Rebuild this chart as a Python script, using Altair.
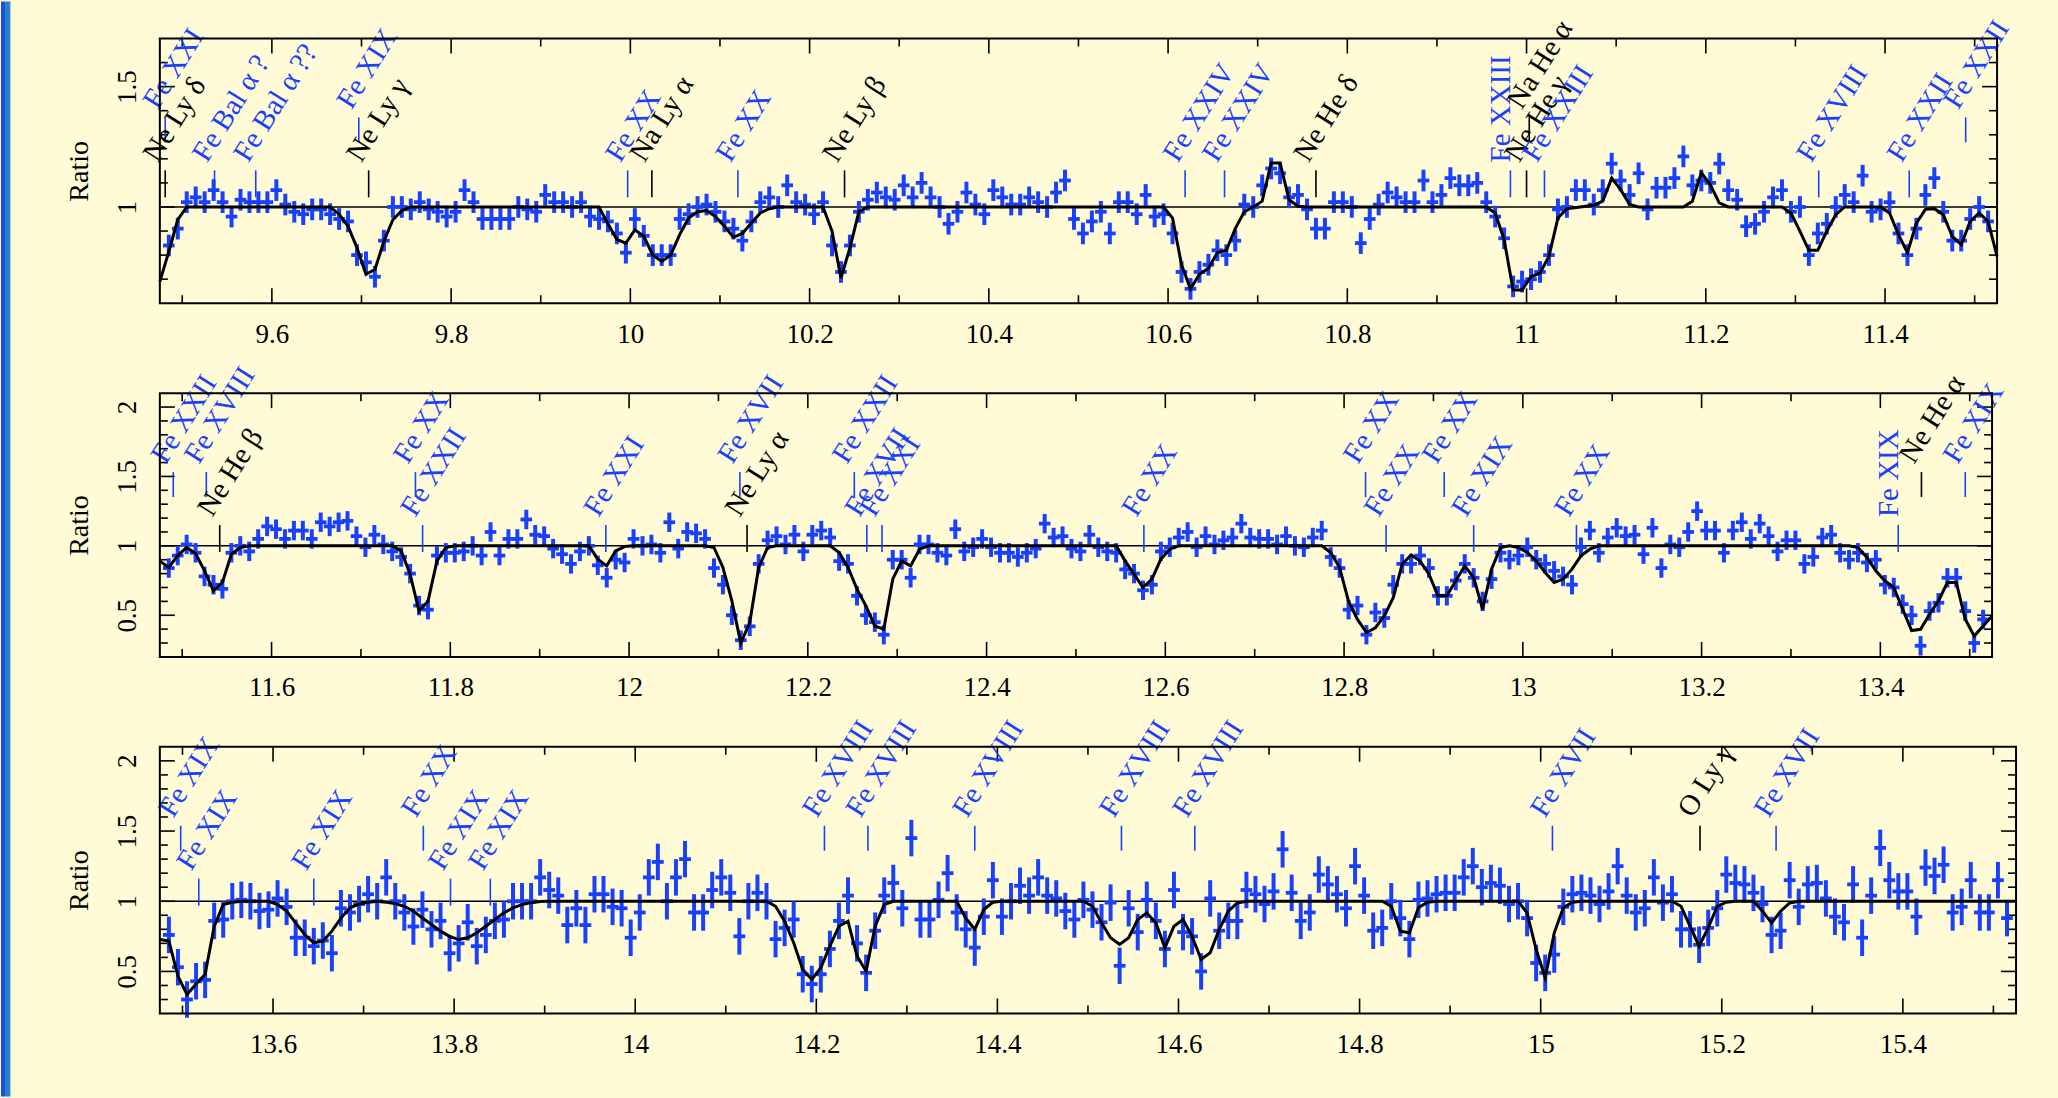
import altair as alt
import pandas as pd

FONT = "Liberation Serif"
BG = "#FFFBD7"
BLUE = "#1a40ff"
BIN = 0.01
HALF_BIN = 0.0065

# page / frame geometry (pixels)
ORIGIN_X, ORIGIN_Y = 159, 37
PAGE_W, PAGE_H = 2058, 1096
LEVEL_PX = {"lo": (159, 132), "hi": (104, 79)}   # marker tick (bottom, top) below frame top
TICK_MAJ, TICK_MIN = 15, 8

# ---------------- panel 1 ----------------
P1_X = [9.475, 11.525]
P1_Y = [0.6, 1.7]
P1_START = 9.485
P1_ERR = 0.045
P1_RATIO = [
    0.84, 0.91, 1.02, 1.04, 1.02, 1.07, 1.02, 0.96, 1.03, 1.02,
    1.02, 1.02, 1.07, 1.01, 0.98, 0.97, 0.99, 0.99, 0.97, 0.95,
    0.94, 0.80, 0.77, 0.71, 0.86, 1.00, 1.00, 0.99, 1.02, 0.99,
    0.98, 0.96, 0.98, 1.07, 1.02, 0.95, 0.95, 0.95, 0.95, 1.00,
    0.99, 0.98, 1.05, 1.02, 1.02, 1.00, 1.02, 0.96, 0.95, 0.94,
    0.89, 0.81, 0.95, 0.88, 0.80, 0.80, 0.80, 0.95, 0.97, 1.00,
    1.01, 0.98, 0.94, 0.91, 0.86, 0.94, 1.02, 1.04, 1.00, 1.09,
    1.02, 1.01, 0.97, 1.02, 0.84, 0.73, 0.84, 0.98, 1.03, 1.06,
    1.04, 1.03, 1.09, 1.04, 1.10, 1.04, 1.00, 0.93, 0.98, 1.06,
    1.01, 0.97, 1.07, 1.04, 1.01, 1.01, 1.04, 1.02, 1.00, 1.06,
    1.11, 0.95, 0.89, 0.94, 0.98, 0.89, 1.02, 1.02, 0.97, 1.05,
    0.96, 0.97, 0.89, 0.73, 0.66, 0.73, 0.76, 0.82, 0.80, 0.86,
    1.01, 1.00, 1.09, 1.16, 1.14, 1.04, 1.05, 0.99, 0.91, 0.91,
    1.02, 1.02, 1.00, 0.85, 0.95, 1.01, 1.06, 1.04, 1.02, 1.02,
    1.11, 1.02, 1.05, 1.12, 1.09, 1.09, 1.10, 1.02, 0.96, 0.87,
    0.67, 0.69, 0.70, 0.73, 0.80, 0.99, 1.00, 1.07, 1.07, 1.01,
    1.07, 1.18, 1.11, 1.05, 1.14, 0.99, 1.08, 1.08, 1.12, 1.21,
    1.09, 1.11, 1.10, 1.18, 1.07, 1.03, 0.92, 0.93, 0.98, 1.04,
    1.07, 0.98, 1.00, 0.80, 0.89, 0.93, 1.00, 1.05, 1.02, 1.13,
    0.98, 0.99, 1.02, 0.89, 0.80, 0.91, 1.05, 1.12, 0.98, 0.86,
    0.86, 0.95, 1.00, 0.94,
]
P1_MODEL_W = [
    9.475, 9.485, 9.495, 9.505, 9.665, 9.675, 9.685, 9.695, 9.705, 9.715,
    9.725, 9.735, 9.745, 9.755, 9.965, 9.975, 9.985, 9.995, 10.005, 10.015,
    10.025, 10.035, 10.045, 10.055, 10.065, 10.075, 10.085, 10.095, 10.105, 10.115,
    10.125, 10.135, 10.145, 10.155, 10.165, 10.215, 10.225, 10.235, 10.245, 10.255,
    10.265, 10.595, 10.605, 10.615, 10.625, 10.635, 10.645, 10.655, 10.665, 10.675,
    10.685, 10.695, 10.705, 10.715, 10.725, 10.735, 10.745, 10.755, 10.955, 10.965,
    10.975, 10.985, 10.995, 11.005, 11.015, 11.025, 11.035, 11.045, 11.075, 11.085,
    11.095, 11.105, 11.115, 11.125, 11.175, 11.185, 11.195, 11.205, 11.215, 11.225,
    11.285, 11.295, 11.305, 11.315, 11.325, 11.335, 11.345, 11.355, 11.395, 11.405,
    11.415, 11.425, 11.435, 11.445, 11.455, 11.465, 11.475, 11.485, 11.495, 11.505,
    11.515, 11.525,
]
P1_MODEL_R = [
    0.69, 0.815, 0.947, 1.0, 1.0, 0.97, 0.92, 0.83, 0.72, 0.74,
    0.857, 0.947, 0.985, 1.0, 1.0, 0.93, 0.865, 0.85, 0.905, 0.878,
    0.80, 0.774, 0.80, 0.885, 0.954, 0.98, 0.985, 0.96, 0.92, 0.874,
    0.89, 0.933, 0.975, 0.993, 1.0, 1.0, 0.90, 0.705, 0.83, 0.98,
    1.0, 1.0, 0.954, 0.76, 0.66, 0.72, 0.745, 0.81, 0.82, 0.91,
    0.98, 1.0, 1.024, 1.183, 1.183, 1.03, 1.003, 1.0, 1.0, 0.975,
    0.864, 0.655, 0.655, 0.71, 0.725, 0.795, 0.954, 0.993, 1.007, 1.024,
    1.12, 1.072, 1.01, 1.0, 1.0, 1.024, 1.142, 1.093, 1.017, 1.0,
    1.0, 0.975, 0.90, 0.82, 0.82, 0.90, 0.968, 1.0, 1.0, 0.975,
    0.885, 0.81, 0.933, 0.99, 0.993, 0.968, 0.878, 0.843, 0.94, 0.975,
    0.94, 0.795,
]
P1_LINES = [
    (9.481, "Fe XXI", "hi", 303), (9.481, "Ne Ly δ", "lo", 303),
    (9.536, "Fe Bal α ?", "lo", 303), (9.582, "Fe Bal α ??", "lo", 303),
    (9.697, "Fe XIX", "hi", 303), (9.708, "Ne Ly γ", "lo", 303),
    (9.997, "Fe XX", "lo", 303), (10.024, "Na Ly α", "lo", 303),
    (10.120, "Fe XX", "lo", 303), (10.239, "Ne Ly β", "lo", 303),
    (10.619, "Fe XXIV", "lo", 303), (10.663, "Fe XXIV", "lo", 303),
    (10.765, "Ne He δ", "lo", 303), (10.982, "Fe XXIII", "lo", 270),
    (11.000, "Ne He γ", "lo", 303), (11.003, "Na He α", "hi", 303),
    (11.020, "Fe XXIII", "lo", 303), (11.326, "Fe XVIII", "lo", 303),
    (11.427, "Fe XXII", "lo", 303), (11.490, "Fe XXII", "hi", 303),
]
P1_XLAB = [9.6, 9.8, 10.0, 10.2, 10.4, 10.6, 10.8, 11.0, 11.2, 11.4]
P1_XMIN = [9.5, 9.7, 9.9, 10.1, 10.3, 10.5, 10.7, 10.9, 11.1, 11.3, 11.5]
P1_YLAB = [1.0, 1.5]
P1_YMIN = [0.7, 0.8, 0.9, 1.1, 1.2, 1.3, 1.4, 1.6]

# ---------------- panel 2 ----------------
P2_X = [11.475, 13.525]
P2_Y = [0.2, 2.1]
P2_START = 11.485
P2_ERR = 0.07
P2_RATIO = [
    0.84, 0.93, 1.01, 0.95, 0.78, 0.72, 0.69, 0.95, 1.00, 0.96,
    1.05, 1.14, 1.12, 1.05, 1.11, 1.11, 1.05, 1.17, 1.14, 1.17,
    1.18, 1.07, 0.99, 1.08, 1.01, 0.96, 0.92, 0.80, 0.57, 0.54,
    0.93, 0.95, 0.95, 0.96, 1.00, 0.93, 1.10, 0.93, 1.05, 1.05,
    1.19, 1.08, 1.07, 0.98, 0.94, 0.87, 0.96, 1.00, 0.86, 0.77,
    0.90, 0.88, 1.05, 1.00, 1.01, 0.95, 1.17, 0.98, 1.10, 1.09,
    1.05, 0.84, 0.72, 0.50, 0.32, 0.42, 0.87, 1.04, 1.07, 1.01,
    1.08, 0.96, 1.08, 1.11, 1.06, 0.89, 0.87, 0.64, 0.50, 0.45,
    0.36, 0.90, 0.90, 0.77, 1.01, 1.01, 0.95, 0.93, 1.12, 0.96,
    0.99, 1.05, 0.99, 0.95, 0.95, 0.92, 0.95, 0.98, 1.16, 1.06,
    1.07, 0.98, 0.96, 1.08, 0.99, 0.96, 0.95, 0.83, 0.80, 0.68,
    0.72, 0.96, 0.99, 1.06, 1.10, 0.99, 1.07, 1.01, 1.04, 1.06,
    1.16, 1.06, 1.05, 1.05, 1.01, 1.07, 1.00, 0.99, 1.06, 1.11,
    0.92, 0.84, 0.54, 0.57, 0.36, 0.52, 0.48, 0.72, 0.87, 0.87,
    0.93, 0.84, 0.64, 0.64, 0.75, 0.87, 0.77, 0.60, 0.76, 0.95,
    0.90, 0.93, 0.99, 0.90, 0.87, 0.82, 0.78, 0.72, 0.99, 1.11,
    0.95, 1.06, 1.13, 1.07, 1.08, 0.94, 1.13, 0.84, 1.01, 0.99,
    1.10, 1.25, 1.11, 1.11, 0.95, 1.11, 1.17, 1.05, 1.16, 1.07,
    0.96, 1.04, 1.04, 0.87, 0.92, 1.06, 1.08, 0.95, 0.90, 0.95,
    0.88, 0.90, 0.72, 0.70, 0.58, 0.50, 0.28, 0.53, 0.59, 0.77,
    0.77, 0.53, 0.30, 0.47,
]
P2_MODEL_W = [
    11.475, 11.485, 11.495, 11.505, 11.515, 11.525, 11.535, 11.545, 11.555, 11.565,
    11.575, 11.735, 11.745, 11.755, 11.765, 11.775, 11.785, 11.795, 11.805, 11.955,
    11.965, 11.975, 11.985, 11.995, 12.005, 12.085, 12.095, 12.105, 12.115, 12.125,
    12.135, 12.145, 12.155, 12.165, 12.225, 12.235, 12.245, 12.255, 12.265, 12.275,
    12.285, 12.295, 12.305, 12.315, 12.325, 12.335, 12.545, 12.555, 12.565, 12.575,
    12.585, 12.595, 12.605, 12.615, 12.775, 12.785, 12.795, 12.805, 12.815, 12.825,
    12.835, 12.845, 12.855, 12.865, 12.875, 12.885, 12.895, 12.905, 12.915, 12.925,
    12.935, 12.945, 12.955, 12.965, 12.975, 12.985, 12.995, 13.005, 13.015, 13.025,
    13.035, 13.045, 13.055, 13.065, 13.075, 13.085, 13.365, 13.375, 13.385, 13.395,
    13.405, 13.415, 13.425, 13.435, 13.445, 13.455, 13.465, 13.475, 13.485, 13.495,
    13.505, 13.515, 13.525,
]
P2_MODEL_R = [
    0.89, 0.844, 0.93, 0.988, 0.945, 0.82, 0.676, 0.736, 0.94, 0.988,
    1.0, 1.0, 0.964, 0.796, 0.53, 0.60, 0.89, 0.988, 1.0, 1.0,
    0.904, 0.856, 0.964, 0.995, 1.0, 1.0, 0.988, 0.844, 0.604, 0.30,
    0.447, 0.844, 0.988, 1.0, 1.0, 0.952, 0.844, 0.688, 0.567, 0.423,
    0.399, 0.76, 0.892, 0.856, 0.976, 1.0, 1.0, 0.892, 0.796, 0.70,
    0.76, 0.904, 0.976, 1.0, 1.0, 0.952, 0.844, 0.60, 0.47, 0.375,
    0.41, 0.495, 0.627, 0.868, 0.935, 0.89, 0.796, 0.64, 0.64, 0.748,
    0.856, 0.772, 0.543, 0.832, 0.988, 1.0, 0.988, 0.952, 0.892, 0.808,
    0.736, 0.76, 0.832, 0.928, 0.976, 1.0, 1.0, 0.988, 0.916, 0.82,
    0.748, 0.70, 0.543, 0.39, 0.399, 0.507, 0.603, 0.736, 0.736, 0.471,
    0.35, 0.423, 0.495,
]
P2_LINES = [
    (11.490, "Fe XXII", "hi", 303), (11.527, "Fe XVIII", "hi", 303),
    (11.542, "Ne He β", "lo", 303), (11.761, "Fe XX", "hi", 303),
    (11.769, "Fe XXII", "lo", 303), (11.974, "Fe XXI", "lo", 303),
    (12.124, "Fe XVII", "hi", 303), (12.132, "Ne Ly α", "lo", 303),
    (12.252, "Fe XXII", "hi", 303), (12.266, "Fe XVII", "lo", 303),
    (12.283, "Fe XXI", "lo", 303), (12.576, "Fe XX", "lo", 303),
    (12.824, "Fe XX", "hi", 303), (12.847, "Fe XX", "lo", 303),
    (12.912, "Fe XX", "hi", 303), (12.945, "Fe XIX", "lo", 303),
    (13.060, "Fe XX", "lo", 303), (13.420, "Fe XIX", "lo", 270),
    (13.446, "Ne He α", "hi", 303), (13.495, "Fe XIX", "hi", 303),
]
P2_XLAB = [11.6, 11.8, 12.0, 12.2, 12.4, 12.6, 12.8, 13.0, 13.2, 13.4]
P2_XMIN = [11.5, 11.7, 11.9, 12.1, 12.3, 12.5, 12.7, 12.9, 13.1, 13.3, 13.5]
P2_YLAB = [0.5, 1.0, 1.5, 2.0]
P2_YMIN = [0.3, 0.4, 0.6, 0.7, 0.8, 0.9, 1.1, 1.2, 1.3, 1.4, 1.6, 1.7, 1.8, 1.9]

# ---------------- panel 3 ----------------
P3_X = [13.475, 15.525]
P3_Y = [0.2, 2.1]
P3_START = 13.485
P3_ERR = 0.13
P3_RATIO = [
    0.76, 0.53, 0.30, 0.43, 0.44, 0.86, 0.87, 1.00, 1.01, 1.00,
    0.93, 0.94, 1.02, 0.96, 0.74, 0.74, 0.68, 0.72, 0.63, 0.95,
    0.92, 0.98, 1.05, 1.00, 1.17, 1.00, 0.92, 0.82, 0.94, 0.80,
    0.86, 0.63, 0.70, 0.85, 0.68, 0.76, 0.86, 0.87, 1.00, 1.00,
    1.00, 1.17, 1.08, 1.04, 0.83, 0.95, 0.83, 1.05, 1.05, 0.96,
    0.95, 0.74, 0.92, 1.17, 1.28, 1.00, 1.17, 1.30, 0.92, 0.92,
    1.08, 1.17, 1.06, 0.75, 1.00, 1.06, 1.00, 0.73, 0.81, 0.87,
    0.48, 0.41, 0.48, 0.66, 0.86, 1.04, 0.70, 0.49, 0.79, 1.04,
    1.13, 0.95, 1.45, 0.87, 0.87, 1.01, 1.20, 0.92, 0.80, 0.67,
    0.89, 1.15, 0.89, 1.00, 1.11, 1.04, 1.17, 1.04, 1.02, 0.93,
    0.87, 1.01, 0.94, 0.85, 0.99, 0.54, 0.95, 0.78, 1.01, 0.86,
    0.66, 1.08, 0.78, 0.75, 0.50, 1.02, 0.79, 0.86, 0.86, 1.08,
    1.05, 0.98, 1.07, 1.37, 1.06, 0.86, 0.92, 1.19, 1.12, 1.05,
    0.95, 1.25, 1.04, 0.79, 0.81, 1.00, 0.88, 0.73, 1.01, 1.02,
    1.05, 1.06, 1.06, 1.17, 1.25, 1.10, 1.13, 1.11, 0.98, 1.00,
    0.88, 0.56, 0.49, 0.62, 0.96, 1.05, 1.06, 1.04, 0.98, 1.07,
    1.25, 1.04, 0.92, 0.95, 1.17, 0.99, 1.05, 0.80, 0.80, 0.69,
    0.81, 0.95, 1.19, 1.13, 1.12, 1.06, 0.98, 0.76, 0.79, 1.15,
    0.96, 1.12, 1.13, 1.02, 0.89, 0.85, 1.12, 0.74, 1.04, 1.38,
    1.15, 1.07, 1.07, 0.89, 1.24, 1.18, 1.26, 0.92, 0.96, 1.15,
    0.92, 0.92, 1.15, 0.88,
]
P3_MODEL_W = [
    13.475, 13.485, 13.495, 13.505, 13.515, 13.525, 13.535, 13.545, 13.555, 13.565,
    13.595, 13.605, 13.615, 13.625, 13.635, 13.645, 13.655, 13.665, 13.675, 13.685,
    13.695, 13.705, 13.715, 13.725, 13.735, 13.745, 13.755, 13.765, 13.775, 13.785,
    13.795, 13.805, 13.815, 13.825, 13.835, 13.845, 13.855, 13.865, 13.875, 13.885,
    13.895, 13.905, 14.145, 14.155, 14.165, 14.175, 14.185, 14.195, 14.205, 14.215,
    14.225, 14.235, 14.245, 14.255, 14.265, 14.275, 14.285, 14.355, 14.365, 14.375,
    14.385, 14.395, 14.405, 14.495, 14.505, 14.515, 14.525, 14.535, 14.545, 14.555,
    14.565, 14.575, 14.585, 14.595, 14.605, 14.615, 14.625, 14.635, 14.645, 14.655,
    14.665, 14.675, 14.825, 14.835, 14.845, 14.855, 14.865, 14.875, 14.885, 14.975,
    14.985, 14.995, 15.005, 15.015, 15.025, 15.035, 15.045, 15.145, 15.155, 15.165,
    15.175, 15.185, 15.195, 15.205, 15.215, 15.235, 15.245, 15.255, 15.265, 15.275,
    15.285, 15.525,
]
P3_MODEL_R = [
    0.727, 0.716, 0.467, 0.336, 0.41, 0.48, 0.82, 0.976, 0.993, 1.0,
    1.0, 0.976, 0.93, 0.846, 0.763, 0.704, 0.716, 0.787, 0.88, 0.953,
    0.98, 0.993, 1.0, 0.993, 0.983, 0.964, 0.93, 0.88, 0.834, 0.787,
    0.75, 0.727, 0.74, 0.775, 0.822, 0.87, 0.917, 0.953, 0.976, 0.99,
    0.998, 1.0, 1.0, 0.964, 0.858, 0.704, 0.514, 0.443, 0.526, 0.68,
    0.822, 0.858, 0.609, 0.502, 0.822, 0.976, 1.0, 1.0, 0.88, 0.80,
    0.941, 0.993, 1.0, 1.0, 0.964, 0.846, 0.74, 0.692, 0.74, 0.87,
    0.917, 0.846, 0.668, 0.822, 0.87, 0.75, 0.585, 0.633, 0.80, 0.929,
    0.988, 1.0, 1.0, 0.964, 0.787, 0.775, 0.953, 0.993, 1.0, 1.0,
    0.917, 0.656, 0.455, 0.775, 0.953, 0.993, 1.0, 1.0, 0.964, 0.822,
    0.68, 0.81, 0.964, 0.993, 1.0, 1.0, 0.929, 0.846, 0.929, 0.988,
    1.0, 1.0,
]
P3_LINES = [
    (13.498, "Fe XIX", "hi", 303), (13.518, "Fe XIX", "lo", 303),
    (13.645, "Fe XIX", "lo", 303), (13.766, "Fe XX", "hi", 303),
    (13.796, "Fe XIX", "lo", 303), (13.840, "Fe XIX", "lo", 303),
    (14.209, "Fe XVIII", "hi", 303), (14.257, "Fe XVIII", "hi", 303),
    (14.375, "Fe XVIII", "hi", 303), (14.537, "Fe XVIII", "hi", 303),
    (14.618, "Fe XVIII", "hi", 303), (15.013, "Fe XVII", "hi", 303),
    (15.176, "O Ly γ", "hi", 303), (15.260, "Fe XVII", "hi", 303),
]
P3_XLAB = [13.6, 13.8, 14.0, 14.2, 14.4, 14.6, 14.8, 15.0, 15.2, 15.4]
P3_XMIN = [13.5, 13.7, 13.9, 14.1, 14.3, 14.5, 14.7, 14.9, 15.1, 15.3, 15.5]
P3_YLAB = [0.5, 1.0, 1.5, 2.0]
P3_YMIN = [0.3, 0.4, 0.6, 0.7, 0.8, 0.9, 1.1, 1.2, 1.3, 1.4, 1.6, 1.7, 1.8, 1.9]

# left page decoration bar (pixels from page edge, colour)
BAR_STRIPES = [(0, 4, "#1c4fe4"), (4, 9, "#2b82c6"), (9, 10, "#9ccfe2")]


def decor_layers():
    one = pd.DataFrame({"k": [0]})
    out = [alt.Chart(one).mark_rect(color=BG).encode(
        x=alt.value(-ORIGIN_X), x2=alt.value(PAGE_W - ORIGIN_X),
        y=alt.value(-ORIGIN_Y), y2=alt.value(PAGE_H - ORIGIN_Y))]
    for a, b, c in BAR_STRIPES:
        out.append(alt.Chart(one).mark_rect(color=c).encode(
            x=alt.value(a - ORIGIN_X), x2=alt.value(b - ORIGIN_X),
            y=alt.value(-ORIGIN_Y), y2=alt.value(PAGE_H - ORIGIN_Y)))
    return out


def make_panel(xdom, ydom, W, H, start, ratio, err, mw, mr, lines,
               xlab, xmin, ylab, ymin, decor=False):
    xs = alt.Scale(domain=xdom, nice=False, zero=False)
    ys = alt.Scale(domain=ydom, nice=False, zero=False)
    xax = alt.Axis(
        values=xlab, format="~g", labelFont=FONT, labelFontSize=27,
        labelColor="black", labelPadding=18, ticks=False, tickSize=0,
        domain=False, grid=False, title=None, labelFlush=False,
        labelOverlap=False, zindex=2)
    yax = alt.Axis(
        values=ylab, format="~g", labelFont=FONT, labelFontSize=27,
        labelColor="black", labelAngle=270, labelAlign="center",
        labelBaseline="alphabetic", labelPadding=24, ticks=False,
        tickSize=0, domain=False, grid=False, labelOverlap=False,
        title="Ratio", titleFont=FONT, titleFontSize=28,
        titleFontWeight="normal", titleColor="black", titleAngle=270,
        titleX=-72, titleY=H / 2, titleAlign="center",
        titleBaseline="alphabetic", zindex=2)

    def ypx(px):
        return ydom[1] - px / H * (ydom[1] - ydom[0])

    pts = pd.DataFrame({"w": [round(start + BIN * i, 4) for i in range(len(ratio))],
                        "r": ratio})
    pts["w0"] = pts["w"] - HALF_BIN
    pts["w1"] = pts["w"] + HALF_BIN
    pts["r0"] = pts["r"] - err
    pts["r1"] = pts["r"] + err

    model = pd.DataFrame({"w": mw, "r": mr})

    lab = pd.DataFrame(lines, columns=["w", "txt", "lvl", "ang"])
    lab["col"] = [BLUE if t.startswith("Fe") else "black" for t in lab["txt"]]
    lab["y0"] = [ypx(LEVEL_PX[l][0]) for l in lab["lvl"]]
    lab["y1"] = [ypx(LEVEL_PX[l][1]) for l in lab["lvl"]]

    def X(f):
        return alt.X(f, type="quantitative", scale=xs, axis=xax)

    def Y(f):
        return alt.Y(f, type="quantitative", scale=ys, axis=yax)

    layers = decor_layers() if decor else []

    # unity line
    layers.append(alt.Chart(pd.DataFrame({"one": [1.0]})).mark_rule(
        color="black", strokeWidth=1.5).encode(y=Y("one")))

    # inward ticks
    for vals, L in ((xlab, TICK_MAJ), (xmin, TICK_MIN)):
        d = pd.DataFrame({"t": vals})
        layers.append(alt.Chart(d).mark_rule(color="black", strokeWidth=1.6).encode(
            x=X("t"), y=alt.value(H), y2=alt.value(H - L)))
        layers.append(alt.Chart(d).mark_rule(color="black", strokeWidth=1.6).encode(
            x=X("t"), y=alt.value(0), y2=alt.value(L)))
    for vals, L in ((ylab, TICK_MAJ), (ymin, TICK_MIN)):
        d = pd.DataFrame({"t": vals})
        layers.append(alt.Chart(d).mark_rule(color="black", strokeWidth=1.6).encode(
            y=Y("t"), x=alt.value(0), x2=alt.value(L)))
        layers.append(alt.Chart(d).mark_rule(color="black", strokeWidth=1.6).encode(
            y=Y("t"), x=alt.value(W), x2=alt.value(W - L)))

    # data crosses
    base = alt.Chart(pts)
    layers.append(base.mark_rule(color=BLUE, strokeWidth=4).encode(
        x=X("w"), y=Y("r0"), y2="r1"))
    layers.append(base.mark_rule(color=BLUE, strokeWidth=3.8).encode(
        x=X("w0"), x2="w1", y=Y("r")))

    # model
    layers.append(alt.Chart(model).mark_line(color="black", strokeWidth=3).encode(
        x=X("w"), y=Y("r")))

    # line markers
    layers.append(alt.Chart(lab).mark_rule(strokeWidth=1.6).encode(
        x=X("w"), y=Y("y0"), y2="y1", color=alt.Color("col:N", scale=None)))
    slanted = lab[lab["ang"] != 270]
    upright = lab[lab["ang"] == 270]
    if len(slanted):
        layers.append(alt.Chart(slanted).mark_text(
            align="left", baseline="alphabetic", font=FONT, fontSize=29,
            angle=302, dx=2, dy=-10).encode(
            x=X("w"), y=Y("y1"), text="txt:N",
            color=alt.Color("col:N", scale=None)))
    if len(upright):
        layers.append(alt.Chart(upright).mark_text(
            align="left", baseline="alphabetic", font=FONT, fontSize=29,
            angle=270, dx=8, dy=0).encode(
            x=X("w"), y=Y("y1"), text="txt:N",
            color=alt.Color("col:N", scale=None)))

    # frame
    layers.append(alt.Chart(pd.DataFrame({"k": [0]})).mark_rect(
        fill="transparent", stroke="black", strokeWidth=2).encode(
        x=alt.value(0), x2=alt.value(W), y=alt.value(0), y2=alt.value(H)))

    return alt.layer(*layers).properties(width=W, height=H)


p1 = make_panel(P1_X, P1_Y, 1839, 265, P1_START, P1_RATIO, P1_ERR,
                P1_MODEL_W, P1_MODEL_R, P1_LINES, P1_XLAB, P1_XMIN,
                P1_YLAB, P1_YMIN, decor=True)
p2 = make_panel(P2_X, P2_Y, 1834, 264, P2_START, P2_RATIO, P2_ERR,
                P2_MODEL_W, P2_MODEL_R, P2_LINES, P2_XLAB, P2_XMIN,
                P2_YLAB, P2_YMIN)
p3 = make_panel(P3_X, P3_Y, 1858, 267, P3_START, P3_RATIO, P3_ERR,
                P3_MODEL_W, P3_MODEL_R, P3_LINES, P3_XLAB, P3_XMIN,
                P3_YLAB, P3_YMIN)

chart = alt.VConcatChart(
    vconcat=[p1, p2, p3], spacing=90, bounds="flush",
    background=BG, padding={"left": 0, "top": 0, "right": 0, "bottom": 0},
).configure(font=FONT).configure_axis(
    labelFont=FONT, titleFont=FONT, labelFontSize=27, titleFontSize=28,
    titleFontWeight="normal",
).configure_text(font=FONT).configure_view(stroke="transparent")

chart.save("out.html", embed_options={"renderer": "svg", "actions": False})
